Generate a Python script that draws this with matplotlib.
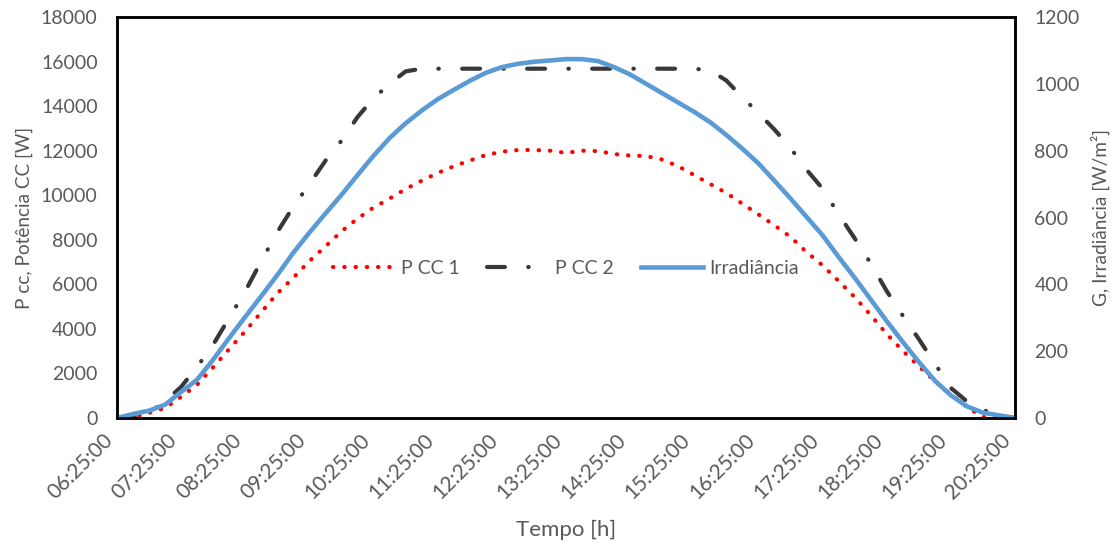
import numpy as np
import matplotlib.pyplot as plt


# sample times (every 15 min)
times = ['06:25', '06:40', '06:55', '07:10', '07:25', '07:40', '07:55', '08:10',
         '08:25', '08:40', '08:55', '09:10', '09:25', '09:40', '09:55', '10:10',
         '10:25', '10:40', '10:55', '11:10', '11:25', '11:40', '11:55', '12:10',
         '12:25', '12:40', '12:55', '13:10', '13:25', '13:40', '13:55', '14:10',
         '14:25', '14:40', '14:55', '15:10', '15:25', '15:40', '15:55', '16:10',
         '16:25', '16:40', '16:55', '17:10', '17:25', '17:40', '17:55', '18:10',
         '18:25', '18:40', '18:55', '19:10', '19:25', '19:40', '19:55', '20:10',
         '20:25']

p_cc1 = [0, 0, 230, 450, 950, 1500, 2280, 3100,
         3900, 4750, 5600, 6300, 7050, 7700, 8380, 8950,
         9450, 9850, 10280, 10650, 11000, 11300, 11560, 11800,
         11955, 12030, 12030, 12000, 11900, 12000, 11980, 11850,
         11780, 11760, 11600, 11300, 10900, 10500, 10100, 9620,
         9140, 8650, 8130, 7450, 6850, 6150, 5430, 4624,
         3770, 3020, 2330, 1650, 1065, 494, 45, 0,
         0]

p_cc2 = [0, 50, 250, 750, 1400, 2300, 3300, 4500,
         5700, 7050, 8350, 9500, 10500, 11550, 12450, 13512,
         14355, 15000, 15560, 15680, 15680, 15680, 15680, 15680,
         15680, 15680, 15680, 15680, 15680, 15680, 15680, 15680,
         15680, 15680, 15680, 15680, 15680, 15600, 15150, 14400,
         13690, 12950, 12120, 11150, 10300, 9150, 8070, 6950,
         5700, 4600, 3550, 2450, 1350, 750, 360, 130,
         0]

irradiance = [0, 12, 22, 40, 78, 115, 175, 240,
              303, 365, 428, 495, 555, 612, 668, 727,
              785, 838, 882, 920, 954, 982, 1009, 1033,
              1050, 1060, 1066, 1070, 1074, 1074, 1068, 1050,
              1028, 1000, 972, 944, 916, 885, 847, 806,
              762, 710, 657, 602, 547, 482, 420, 355,
              290, 228, 168, 112, 68, 35, 16, 8,
              0]

tick_labels = ['06:25:00', '07:25:00', '08:25:00', '09:25:00', '10:25:00',
               '11:25:00', '12:25:00', '13:25:00', '14:25:00', '15:25:00',
               '16:25:00', '17:25:00', '18:25:00', '19:25:00', '20:25:00']


def to_hours(s):
    h, m = s.split(':')[:2]
    return int(h) + int(m) / 60.0


x = np.array([to_hours(t) for t in times])
xticks = [to_hours(t) for t in tick_labels]

plt.rcParams['font.family'] = ['Lato', 'DejaVu Sans']
plt.rcParams['font.size'] = 14
text_color = '#595959'

fig = plt.figure(figsize=(11.19, 5.42), dpi=100)
ax = fig.add_axes([0.1046, 0.2288, 0.8024, 0.7398])
ax2 = ax.twinx()

l1, = ax.plot(x, p_cc1, color='#FF0000', lw=3, linestyle=(0, (0.1, 2.6)),
              dash_capstyle='round', label='P CC 1')
l2, = ax.plot(x, p_cc2, color='#383838', lw=3, linestyle=(0, (4.3, 5.6, 0.1, 5.6)),
              dash_capstyle='round', label='P CC 2')
l3, = ax2.plot(x, irradiance, color='#5B9BD5', lw=3.3, label='Irradiância')

ax.set_xlim(xticks[0], xticks[-1])
ax.set_ylim(0, 18000)
ax2.set_ylim(0, 1200)
ax.set_yticks(np.arange(0, 18001, 2000))
ax2.set_yticks(np.arange(0, 1201, 200))
ax.set_xticks(xticks)
ax.set_xticklabels(tick_labels, rotation=45, ha='right', va='top')

for a in (ax, ax2):
    a.tick_params(length=0, colors=text_color, labelsize=14, pad=14)
    for sp in a.spines.values():
        sp.set_color('black')
        sp.set_linewidth(1.8)
ax.tick_params(axis='x', pad=9, labelsize=15)

ax.set_xlabel('Tempo [h]', color=text_color, fontsize=16, labelpad=12)
ax.set_ylabel('P cc, Potência CC [W]', color=text_color, fontsize=13.7, labelpad=6)
ax2.set_ylabel('G, Irradiância [W/m²]', color=text_color, fontsize=13.7, labelpad=8)

leg = ax2.legend(handles=[l1, l2, l3], loc='center', bbox_to_anchor=(0.5, 0.374),
                 ncol=3, frameon=False, handlelength=3.2, columnspacing=1.4,
                 handletextpad=0.3, fontsize=14)
for t in leg.get_texts():
    t.set_color(text_color)

fig.savefig('out.png', dpi=100)
